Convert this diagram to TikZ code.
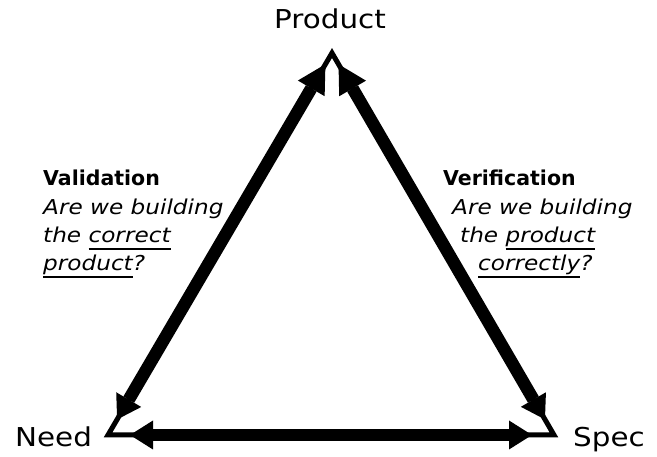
\documentclass[tikz,border=0pt]{standalone}
\usepackage{fontspec}
\setmainfont{DejaVu Sans}[FakeStretch=1.13]
\newfontfamily\boldfam{DejaVu Sans}
\usetikzlibrary{arrows.meta,calc}
\newcommand\myul[1]{\setbox0\hbox{#1}\rlap{\rule[-6.8pt]{\wd0}{1.6pt}}\box0}
\tikzset{
  toptip/.tip={Triangle[width=31pt,length=28pt,line width=0pt]},
  lowtip/.tip={Triangle[width=29pt,length=23pt,line width=0pt]},
  sidearrow/.style={line width=12.5pt, toptip-lowtip},
  basearrow/.style={line width=12.5pt, lowtip-lowtip},
  outline/.style={line width=5pt, line join=miter},
  corner/.style={font=\fontsize{26}{30}\selectfont, inner sep=0pt, anchor=base west},
  titletxt/.style={font=\boldfam\bfseries\fontsize{20.5}{24}\selectfont, inner sep=0pt, anchor=base west},
  bodytxt/.style={font=\itshape\fontsize{20.5}{24}\selectfont, inner sep=0pt, anchor=base west}
}
\begin{document}
\begin{tikzpicture}[x=1pt,y=-1pt]
\useasboundingbox (0,0) rectangle (657,457);
\coordinate (A) at (332,53);
\coordinate (N) at (108,435);
\coordinate (S) at (554,435);
\draw[outline] (A) -- (N) -- (S) -- cycle;
\coordinate (a1) at ($(A)!13pt!(N)$);
\coordinate (n1) at ($(N)!18pt!(A)$);
\coordinate (a2) at ($(A)!13pt!(S)$);
\coordinate (s2) at ($(S)!18pt!(A)$);
\coordinate (n3) at ($(N)!22pt!(S)$);
\coordinate (s3) at ($(S)!22pt!(N)$);
\draw[sidearrow] (a1) -- (n1);
\draw[sidearrow] (a2) -- (s2);
\draw[basearrow] (n3) -- (s3);
\node[corner, anchor=base] (prod) at (330,29) {Product};
\node[corner] (need) at (15,447) {Need};
\node[corner] (spec) at (573,447) {Spec};
\node[titletxt] (val) at (43,186) {Validation};
\node[bodytxt] (v1) at (43,215) {Are we building};
\node[bodytxt] (v2) at (43,243) {the \myul{correct}};
\node[bodytxt] (v3) at (43,271) {\myul{product}?};
\node[titletxt] (ver) at (443,186) {Verification};
\node[bodytxt] (r1) at (452,215) {Are we building};
\node[bodytxt] (r2) at (460,243) {the \myul{product}};
\node[bodytxt] (r3) at (478,271) {\myul{correctly}?};
\end{tikzpicture}
\end{document}
